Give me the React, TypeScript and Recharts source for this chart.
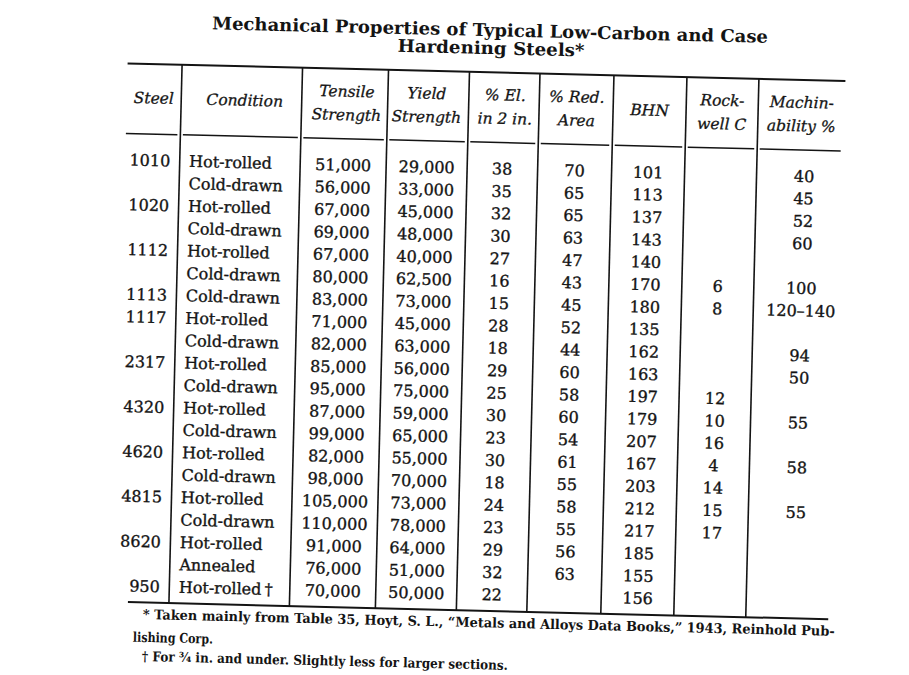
import { ReferenceLine, Scatter, ScatterChart, XAxis, YAxis } from "recharts";

// table rows, top to bottom
const steels = ["1010", "", "1020", "", "1112", "", "1113", "1117", "", "2317", "", "4320", "", "4620", "", "4815", "", "8620", "", "950"];
const conditions = [
  "Hot-rolled", "Cold-drawn", "Hot-rolled", "Cold-drawn", "Hot-rolled", "Cold-drawn", "Cold-drawn",
  "Hot-rolled", "Cold-drawn", "Hot-rolled", "Cold-drawn", "Hot-rolled", "Cold-drawn", "Hot-rolled",
  "Cold-drawn", "Hot-rolled", "Cold-drawn", "Hot-rolled", "Annealed", "Hot-rolled\u2009†",
];
const tensile = [51000, 56000, 67000, 69000, 67000, 80000, 83000, 71000, 82000, 85000, 95000, 87000, 99000, 82000, 98000, 105000, 110000, 91000, 76000, 70000];
const yieldStrength = [29000, 33000, 45000, 48000, 40000, 62500, 73000, 45000, 63000, 56000, 75000, 59000, 65000, 55000, 70000, 73000, 78000, 64000, 51000, 50000];
const elongation = [38, 35, 32, 30, 27, 16, 15, 28, 18, 29, 25, 30, 23, 30, 18, 24, 23, 29, 32, 22];
const reductionArea = [70, 65, 65, 63, 47, 43, 45, 52, 44, 60, 58, 60, 54, 61, 55, 58, 55, 56, 63, null];
const bhn = [101, 113, 137, 143, 140, 170, 180, 135, 162, 163, 197, 179, 207, 167, 203, 212, 217, 185, 155, 156];
const rockwellC = [null, null, null, null, null, 6, 8, null, null, null, 12, 10, 16, 4, 14, 15, 17, null, null, null];
const machinability = ["40", "45", "52", "60", "", "100", "120–140", "", "94", "50", "", "55", "", "58", "", "55", "", "", "", ""];

const headers = [
  ["Steel"], ["Condition"], ["Tensile", "Strength"], ["Yield", "Strength"], ["% El.", "in 2 in."],
  ["% Red.", "Area"], ["BHN"], ["Rock-", "well C"], ["Machin-", "ability %"],
];

const titleLines = ["Mechanical Properties of Typical Low-Carbon and Case", "Hardening Steels*"];
const footnotes = [
  "* Taken mainly from Table 35, Hoyt, S. L., “Metals and Alloys Data Books,” 1943, Reinhold Pub-",
  "lishing Corp.",
  "† For ¾ in. and under. Slightly less for larger sections.",
];

// layout: x in page px, y in row units
const W = 909;
const H = 675;
const CHART_H = 692; // a little extra so the last footnote is not clipped before rotation
const ROW0 = 167.8;
const ROW_STEP = 22.42;
const EDGES = [121, 175.5, 296, 382, 463, 533.5, 607.5, 680.5, 752.5, 839];
const NUM_CENTERS = [339, 422.5, 498, 570.5, 644, 716.5, 800];
const HEAD_CENTERS = [148, 239, 341, 421, 499.5, 571, 644, 716.5, 796];
const rowOf = (py: number) => (py - ROW0) / ROW_STEP;
const TOP_RULE = rowOf(71.5);
const HEAD_RULE = rowOf(141.5);
const BOTTOM_RULE = rowOf(610);

const fmt = (v: number | string | null) =>
  v === null || v === "" ? "" : typeof v === "number" && v >= 1000 ? v.toLocaleString("en-US") : String(v);

const cells: { x: number; y: number; text: string; anchor: string }[] = [];
steels.forEach((s, i) => {
  cells.push({ x: 166, y: i, text: s, anchor: "end" });
  cells.push({ x: 185, y: i, text: conditions[i], anchor: "start" });
  [tensile[i], yieldStrength[i], elongation[i], reductionArea[i], bhn[i], rockwellC[i], machinability[i]].forEach((v, c) =>
    cells.push({ x: NUM_CENTERS[c], y: i, text: fmt(v), anchor: "middle" })
  );
});

const headCells: { x: number; y: number; text: string }[] = [];
headers.forEach((lines, c) => {
  const ys = lines.length === 1 ? [rowOf(105.5)] : [rowOf(94), rowOf(117.5)];
  lines.forEach((t, k) => headCells.push({ x: HEAD_CENTERS[c], y: ys[k], text: t }));
});

const titleCells = [
  { x: 482.5, y: rowOf(29.1), text: titleLines[0], len: 556, anchor: "middle" },
  { x: 484, y: rowOf(47.1), text: titleLines[1], len: 187, anchor: "middle" },
];
const noteCells = [
  { x: 149.7, y: rowOf(621.5), text: footnotes[0], len: 692, anchor: "start" },
  { x: 140.3, y: rowOf(644.5), text: footnotes[1], len: 80, anchor: "start" },
  { x: 149.8, y: rowOf(663.5), text: footnotes[2], len: 366, anchor: "start" },
];

const INK = "#141414";

const BodyText = (p: any) => (
  <text x={p.cx} y={p.cy + 5.6} textAnchor={p.payload.anchor} fontFamily="DejaVu Serif" fontSize={16}
    fill={INK} stroke={INK} strokeWidth={0.35}>
    {p.payload.text}
  </text>
);

const HeadText = (p: any) => (
  <text x={p.cx} y={p.cy + 5.4} textAnchor="middle" fontFamily="DejaVu Serif" fontStyle="italic" fontSize={15.5}
    fill={INK} stroke={INK} strokeWidth={0.3}>
    {p.payload.text}
  </text>
);

const TitleText = (p: any) => (
  <text x={p.cx} y={p.cy + 6.2} textAnchor={p.payload.anchor} fontFamily="DejaVu Serif" fontWeight="bold" fontSize={17.5}
    textLength={p.payload.len} lengthAdjust="spacingAndGlyphs" fill={INK}>
    {p.payload.text}
  </text>
);

const NoteText = (p: any) => (
  <text x={p.cx} y={p.cy + 5} textAnchor={p.payload.anchor} fontFamily="DejaVu Serif" fontWeight="bold" fontSize={13.5}
    textLength={p.payload.len} lengthAdjust="spacingAndGlyphs" fill={INK}>
    {p.payload.text}
  </text>
);

export default function App() {
  return (
    <>
      <style>{"html,body{overflow:hidden;background:#fff}"}</style>
      <div
        style={{
          position: "absolute",
          left: 0,
          top: 0,
          width: W,
          height: CHART_H,
          transform: "rotate(1.4deg)",
          transformOrigin: `${W / 2}px ${H / 2}px`,
        }}
      >
        <ScatterChart width={W} height={CHART_H} margin={{ top: 0, right: 0, bottom: 0, left: 0 }}>
          <XAxis type="number" dataKey="x" domain={[0, W]} allowDataOverflow hide />
          <YAxis type="number" dataKey="y" domain={[rowOf(0), rowOf(CHART_H)]} allowDataOverflow reversed hide />

          <ReferenceLine segment={[{ x: EDGES[0], y: TOP_RULE }, { x: EDGES[9], y: TOP_RULE }]} stroke={INK} strokeWidth={2} ifOverflow="visible" />
          <ReferenceLine segment={[{ x: 134.5, y: BOTTOM_RULE }, { x: 835, y: BOTTOM_RULE }]} stroke={INK} strokeWidth={2} ifOverflow="visible" />
          {EDGES.slice(0, 9).map((e, c) => (
            <ReferenceLine
              key={`h${c}`}
              segment={[{ x: e + (c === 0 ? 0 : 2.5), y: HEAD_RULE }, { x: EDGES[c + 1] - 3, y: HEAD_RULE }]}
              stroke={INK}
              strokeWidth={1.5}
              ifOverflow="visible"
            />
          ))}
          {EDGES.slice(1, 9).map((e, c) => (
            <ReferenceLine
              key={`v${c}`}
              segment={[{ x: e, y: TOP_RULE }, { x: e, y: BOTTOM_RULE }]}
              stroke={INK}
              strokeWidth={1.6}
              ifOverflow="visible"
            />
          ))}

          <Scatter data={titleCells} shape={TitleText} isAnimationActive={false} />
          <Scatter data={headCells} shape={HeadText} isAnimationActive={false} />
          <Scatter data={cells.filter((c) => c.text !== "")} shape={BodyText} isAnimationActive={false} />
          <Scatter data={noteCells} shape={NoteText} isAnimationActive={false} />
        </ScatterChart>
      </div>
    </>
  );
}
